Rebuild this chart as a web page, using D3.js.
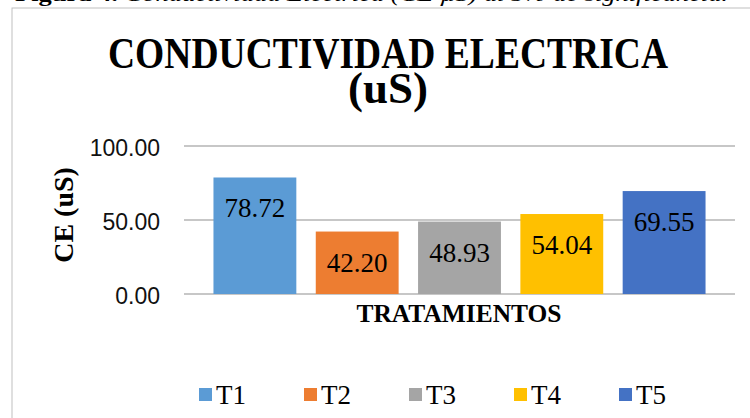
<!DOCTYPE html>
<html>
<head>
<meta charset="utf-8">
<script src="https://cdn.jsdelivr.net/npm/d3@7"></script>
<style>
  html, body { margin: 0; padding: 0; background: #fff; }
  svg { display: block; }
</style>
</head>
<body>
<svg id="chart" width="750" height="418"></svg>
<script>
// data
const categories = ['T1', 'T2', 'T3', 'T4', 'T5'];
const values = [78.72, 42.20, 48.93, 54.04, 69.55];
const colors = ['#5B9BD5', '#ED7D31', '#A5A5A5', '#FFC000', '#4472C4'];
const yTicks = [0, 50, 100];

const SERIF = "font-family: 'Liberation Serif', 'Times New Roman', serif";
const SANS = "font-family: 'Liberation Sans', Arial, sans-serif";

const svg = d3.select('#chart');

// caption of the figure, cut off at the top of the picture
svg.append('text')
  .attr('style', SERIF)
  .attr('x', 15).attr('y', 1)
  .attr('font-size', 22)
  .attr('textLength', 713).attr('lengthAdjust', 'spacingAndGlyphs')
  .call(t => {
    t.append('tspan').attr('font-weight', 'bold').text('Figura 4. ');
    t.append('tspan').attr('font-style', 'italic').text('Conductividad Eléctrica (CE µS) al 5% de significancia.');
  });

// chart area border (right and bottom edges fall outside the picture)
svg.append('rect')
  .attr('x', 12).attr('y', 8).attr('width', 760).attr('height', 420)
  .attr('fill', 'none').attr('stroke', '#bfbfbf').attr('stroke-width', 1);

// title
svg.append('text')
  .attr('style', SERIF)
  .attr('x', 388).attr('y', 68)
  .attr('text-anchor', 'middle')
  .attr('font-weight', 'bold').attr('font-size', 45)
  .attr('textLength', 560).attr('lengthAdjust', 'spacingAndGlyphs')
  .text('CONDUCTIVIDAD ELECTRICA');
svg.append('text')
  .attr('style', SERIF)
  .attr('x', 388).attr('y', 103)
  .attr('text-anchor', 'middle')
  .attr('font-weight', 'bold').attr('font-size', 45)
  .text('(uS)');

// scales
const x = d3.scaleBand().domain(categories).range([184, 735])
  .paddingInner(0.19).paddingOuter(0.288);
const y = d3.scaleLinear().domain([0, 100]).range([294, 146]);

// gridlines
svg.append('g')
  .selectAll('line').data(yTicks).join('line')
  .attr('x1', 184).attr('x2', 735)
  .attr('y1', d => y(d)).attr('y2', d => y(d))
  .attr('stroke', '#b4b4b4').attr('stroke-width', 1.5);

// y axis labels
const yAxis = svg.append('g')
  .attr('transform', 'translate(160,0)')
  .call(d3.axisLeft(y).tickValues(yTicks).tickFormat(d3.format('.2f')).tickSize(0).tickPadding(0));
yAxis.select('.domain').remove();
yAxis.attr('font-family', null);
yAxis.selectAll('text')
  .attr('style', SANS)
  .attr('font-size', 23).attr('fill', '#111')
  .attr('dy', '0.4em');

// bars
svg.append('g')
  .selectAll('rect').data(values).join('rect')
  .attr('x', (d, i) => x(categories[i]))
  .attr('width', x.bandwidth())
  .attr('y', d => y(d))
  .attr('height', d => y(0) - y(d))
  .attr('fill', (d, i) => colors[i]);

// value labels
svg.append('g')
  .selectAll('text').data(values).join('text')
  .attr('style', SERIF)
  .attr('x', (d, i) => x(categories[i]) + x.bandwidth() / 2)
  .attr('y', d => y(d) + 40)
  .attr('text-anchor', 'middle')
  .attr('font-size', 27).attr('fill', '#000')
  .text(d => d.toFixed(2));

// axis titles
svg.append('text')
  .attr('style', SERIF)
  .attr('x', 459).attr('y', 322)
  .attr('text-anchor', 'middle')
  .attr('font-weight', 'bold').attr('font-size', 25)
  .attr('textLength', 205).attr('lengthAdjust', 'spacingAndGlyphs')
  .text('TRATAMIENTOS');
svg.append('text')
  .attr('style', SERIF)
  .attr('transform', 'translate(73,215) rotate(-90)')
  .attr('text-anchor', 'middle')
  .attr('font-weight', 'bold').attr('font-size', 28)
  .text('CE (uS)');

// legend
const legend = svg.append('g').attr('transform', 'translate(199,388)');
const item = legend.selectAll('g').data(categories).join('g')
  .attr('transform', (d, i) => `translate(${i * 105},0)`);
item.append('rect')
  .attr('width', 13).attr('height', 13)
  .attr('fill', (d, i) => colors[i]);
item.append('text')
  .attr('style', SERIF)
  .attr('x', 17).attr('y', 16)
  .attr('font-size', 27).attr('fill', '#000')
  .text(d => d);
</script>
</body>
</html>
